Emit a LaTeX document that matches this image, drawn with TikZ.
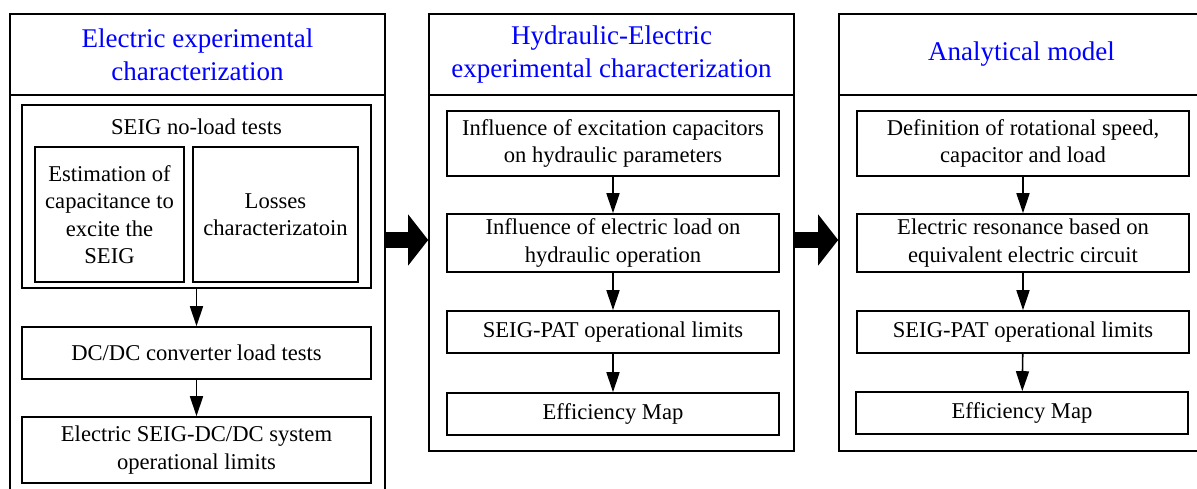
\documentclass[tikz,border=0pt]{standalone}
\usepackage{fontspec}
\setmainfont{Liberation Serif}
\usetikzlibrary{arrows.meta}
\newcommand{\boxfont}{\fontsize{22.6}{27.5}\selectfont}
\newcommand{\headfont}{\fontsize{27}{33}\selectfont}
\definecolor{headblue}{RGB}{0,0,255}
\tikzset{
  panel/.style={draw, line width=1.6pt, minimum width=#1, inner sep=0pt},
  headbox/.style={draw, line width=1.6pt, minimum width=#1, minimum height=81pt,
    align=center, font=\headfont, text=headblue},
  stepbox/.style={draw, line width=1.6pt, minimum width=332pt, align=center,
    font=\boxfont, inner sep=2pt},
  flow/.style={line width=1.6pt, -{Triangle[length=20pt,width=13pt]}},
  bigflow/.style={line width=16pt, -{Triangle[length=20pt,width=50pt]}}
}
\begin{document}
\begin{tikzpicture}[x=1pt,y=-1pt]
\clip (0,0) rectangle (1197,489);
\fill[white] (0,0) rectangle (1197,489);
%%electric panel
\node[headbox=375pt] (elechead) at (197.5,54.5) {Electric experimental\\characterization};
\node[panel=375pt, minimum height=425pt] (elecbody) at (197.5,307.5) {};
%no-load tests
\node[panel=349pt, minimum height=183pt] (noload) at (196.5,196.5) {};
\node[font=\boxfont] (noloadtxt) at (196.5,127) {SEIG no-load tests};
\node[stepbox, minimum width=149pt, minimum height=135pt] (capest) at (109.5,214.5)
     {Estimation of\\capacitance to\\excite the\\SEIG};
\node[stepbox, minimum width=165pt, minimum height=135pt] (losses) at (275.5,214.5)
     {Losses\\characterizatoin};
%load tests
\node[stepbox, minimum width=349pt, minimum height=52pt] (dcdc) at (196.5,353)
     {DC/DC converter load tests};
\node[stepbox, minimum width=349pt, minimum height=66pt] (elecsys) at (196.5,450)
     {Electric SEIG-DC/DC system\\operational limits};
\draw[flow] (noload.south) -- (dcdc.north);
\draw[flow] (dcdc.south) -- (elecsys.north);
%%hydraulic-electric panel
\node[headbox=365pt] (hydrohead) at (611.5,54.5) {Hydraulic-Electric\\experimental characterization};
\node[panel=365pt, minimum height=356pt] (hydrobody) at (611.5,273) {};
\node[stepbox, minimum height=65pt] (hcap) at (613,143.5)
     {Influence of excitation capacitors\\on hydraulic parameters};
\node[stepbox, minimum height=58pt] (hload) at (613,243)
     {Influence of electric load on\\hydraulic operation};
\node[stepbox, minimum height=42pt] (hlim) at (613,332) {SEIG-PAT operational limits};
\node[stepbox, minimum height=42pt] (hmap) at (613,414) {Efficiency Map};
\draw[flow] (hcap) -- (hload);
\draw[flow] (hload) -- (hlim);
\draw[flow] (hlim) -- (hmap);
%%analytical panel
\node[headbox=365pt] (anahead) at (1021.5,54.5) {Analytical model};
\node[panel=365pt, minimum height=356pt] (anabody) at (1021.5,273) {};
\node[stepbox, minimum height=65pt] (adef) at (1023,143.5)
     {Definition of rotational speed,\\capacitor and load};
\node[stepbox, minimum height=58pt] (ares) at (1023,243)
     {Electric resonance based on\\equivalent electric circuit};
\node[stepbox, minimum height=42pt] (alim) at (1023,332) {SEIG-PAT operational limits};
\node[stepbox, minimum height=42pt] (amap) at (1022,413) {Efficiency Map};
\draw[flow] (adef) -- (ares);
\draw[flow] (ares) -- (alim);
\draw[flow] (alim) -- (amap);
%%panel to panel
\draw[bigflow] (elecbody.east |- 0,240) -- (hydrobody.west |- 0,240);
\draw[bigflow] (hydrobody.east |- 0,240) -- (anabody.west |- 0,240);
\end{tikzpicture}
\end{document}
